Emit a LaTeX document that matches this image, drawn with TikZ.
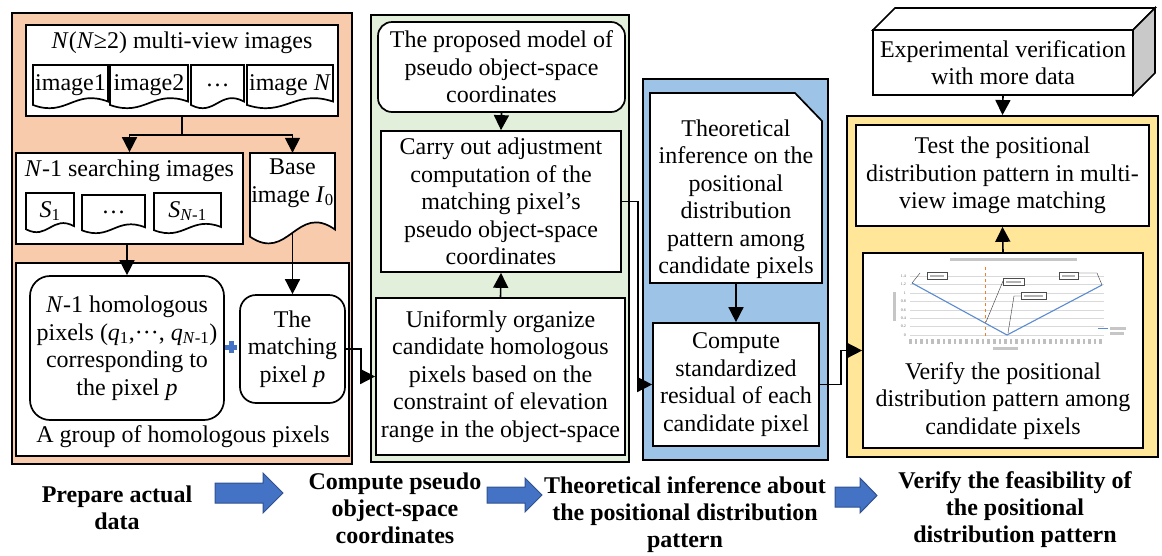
\documentclass[tikz,border=0pt]{standalone}
\usepackage{fontspec}
\setmainfont{Liberation Serif}
\usetikzlibrary{arrows.meta,calc,fit}
\pgfdeclarelayer{bg}
\pgfdeclarelayer{conn}
\pgfsetlayers{bg,conn,main}
\definecolor{peach}{HTML}{F8CBAD}
\definecolor{pgreen}{HTML}{E2EFDA}
\definecolor{pblue}{HTML}{9DC3E6}
\definecolor{pyellow}{HTML}{FFE699}
\definecolor{arrowblue}{HTML}{4472C4}
\definecolor{arrowedge}{HTML}{2F528F}
\definecolor{chartblue}{HTML}{5B8BD0}
\definecolor{chartorange}{HTML}{ED7D31}
\definecolor{sidegray}{HTML}{C9C9C9}
\newcommand{\docshape}[4]{%
  \draw[docline] (#1,#2) -- (#3,#2) -- (#3,{#4-0.15*(#4-#2)})
    .. controls ({#3-0.45*(#3-#1)},{#4-0.45*(#4-#2)}) and ({#1+0.45*(#3-#1)},{#4+0.22*(#4-#2)})
    .. (#1,{#4-0.07*(#4-#2)}) -- cycle;}
% box node from its corners: [options]{name}{x1}{y1}{x2}{y2}{text}
\newcommand{\boxnode}[7][]{%
  \pgfmathsetmacro\bxc{(#3+#5)/2}\pgfmathsetmacro\byc{(#4+#6)/2}%
  \pgfmathsetmacro\bxw{#5-#3}\pgfmathsetmacro\bxh{#6-#4}%
  \node[box,minimum width=\bxw pt,minimum height=\bxh pt,#1] (#2) at (\bxc,\byc) {#7};}
\tikzset{
  panel/.style={draw=black, line width=1.9pt, inner sep=0pt},
  box/.style={draw=black, fill=white, line width=1.7pt, inner sep=0pt, align=center, font=\fontsize{24}{27.5}\selectfont},
  area/.style={inner sep=0pt},
  txt/.style={inner sep=0pt, align=center, font=\fontsize{24}{27.5}\selectfont},
  steplabel/.style={inner sep=0pt, align=center, font=\fontsize{24}{27}\selectfont\bfseries},
  link/.style={line width=1.6pt, -{Triangle[length=15pt,width=15pt]}},
  plainlink/.style={line width=1.6pt},
  docline/.style={draw=black, fill=white, line width=1.7pt},
  blockarrow/.style={fill=arrowblue, draw=arrowedge, line width=1pt},
  chartgrid/.style={gray!30, line width=0.4pt},
  blurtext/.style={fill=gray!45},
  charttick/.style={inner sep=0pt, text=gray!80!black, font=\fontsize{4}{4}\selectfont},
  leader/.style={black!80, line width=0.4pt},
  labelbox/.style={draw=black!70, fill=white, line width=0.4pt},
}
\begin{document}
\begin{tikzpicture}[x=1pt,y=-1pt]
\useasboundingbox (0,0) rectangle (1162,555);

% ---------- panels ----------
\begin{pgfonlayer}{bg}
\node[panel, fill=peach, fit={(12,13)(352,464)}] (opanel) {};
\node[panel, fill=white, line width=2.2pt, fit={(16,263)(349,456)}] (group) {};
\node[panel, fill=pgreen, fit={(371,15)(629,462)}] (gpanel) {};
\node[panel, fill=pblue, fit={(643,79)(828,460)}] (bpanel) {};
\node[panel, fill=pyellow, fit={(847,116)(1158,457)}] (ypanel) {};
\end{pgfonlayer}

% ---------- orange panel ----------
\boxnode{multi}{26}{25}{338}{116}{}
\node[txt] (multit) at (182,43) {\textit{N}(\textit{N}≥2) multi-view images};
\docshape{33}{65}{108}{108}
\node[txt] (img1) at (70.5,85) {image1};
\docshape{110}{65}{188}{108}
\node[txt] (img2) at (149,85) {image2};
\docshape{191}{65}{244}{108}
\node[txt] (img3) at (217.5,85) {…};
\docshape{247}{65}{333}{108}
\node[txt] (img4) at (290,85) {image \textit{N}};

\boxnode{search}{16}{153}{243}{244}{}
\node[txt] (searcht) at (129.5,171) {\textit{N}-1 searching images};
\docshape{26}{193}{74}{232}
\node[txt] (s1) at (50,211) {\textit{S}\textsubscript{1}};
\docshape{82}{195}{145}{233}
\node[txt] (s2) at (113.5,212) {…};
\docshape{154}{193}{221}{233}
\node[txt] (s3) at (187.5,211) {\textit{S}\textsubscript{\textit{N}-1}};

\node[area, fit={(250,153)(335,243)}] (base) {};
\docshape{250}{153}{335}{243}
\node[txt] (baset) at (292.5,183) {Base\\image \textit{I}\textsubscript{0}};

\boxnode[rounded corners=20pt]{homol}{30}{276}{224}{420}
  {\textit{N}-1 homologous\\pixels (\textit{q}\textsubscript{1},···, \textit{q}\textsubscript{\textit{N}-1})\\corresponding to\\the pixel \textit{p}}
\boxnode[rounded corners=16pt]{match}{240}{295}{345}{403}
  {The\\matching\\pixel \textit{p}}
\node[txt] (groupt) at (183,437) {A group of homologous pixels};
\draw[arrowblue, line width=5pt] (225,347) -- (237,347) (231,341) -- (231,353);

% ---------- green panel ----------
\boxnode[rounded corners=14pt]{prop}{378}{22}{625}{112}
  {The proposed model of\\pseudo object-space\\coordinates}
\boxnode{carry}{381}{131}{621}{272}
  {Carry out adjustment\\computation of the\\matching pixel’s\\pseudo object-space\\coordinates}
\boxnode{unif}{376}{298}{625}{455}
  {Uniformly organize\\candidate homologous\\pixels based on the\\constraint of elevation\\range in the object-space}

% ---------- blue panel ----------
\node[area, fit={(650,93)(822,283)}] (theo) {};
\draw[docline] (650,93) -- (795,93) -- (822,121) -- (822,283) -- (650,283) -- cycle;
\node[txt] (theot) at (736,199)
  {Theoretical\\inference on the\\positional\\distribution\\pattern among\\candidate pixels};
\boxnode{compute}{653}{323}{819}{446}
  {Compute\\standardized\\residual of each\\candidate pixel}

% ---------- yellow panel ----------
\draw[line width=1.7pt, fill=white] (873,30) -- (895,8) -- (1155,8) -- (1133,30) -- cycle;
\draw[line width=1.7pt, fill=sidegray] (1133,30) -- (1155,8) -- (1155,73) -- (1133,95) -- cycle;
\boxnode{exp}{873}{30}{1133}{95}{Experimental verification\\with more data}
\boxnode{test}{856}{125}{1149}{226}
  {Test the positional\\distribution pattern in multi-\\view image matching}
\boxnode{verify}{863}{253}{1143}{448}{}
\node[txt] (verifyt) at (1003,401)
  {Verify the positional\\distribution pattern among\\candidate pixels};

% chart inside the verify box
\fill[blurtext] (950,257.6) rectangle (1077,260.6);
\foreach \v/\l in {0/0,1/0.2,2/0.4,3/0.6,4/0.8,5/1,6/1.2,7/1.4}{
  \draw[chartgrid] (910,{335-8.43*\v}) -- (1104,{335-8.43*\v});
  \node[charttick, anchor=east] (yl\v) at (906,{335-8.43*\v}) {\l};
}
\fill[blurtext] (893,292) rectangle (896,321);
\foreach \i in {0,...,34}{ \fill[gray!50] ({909+\i*5.6},339) rectangle ++(2.6,4.5); }
\fill[blurtext] (993,347) rectangle (1018,350);
\draw[chartorange, dashed, line width=0.9pt] (985,267) -- (985,338);
\draw[chartblue, line width=1.1pt] (912,283) -- (1007,335) -- (1102,285);
\draw[chartblue, line width=1pt] (1098,328) -- (1108,328);
\fill[blurtext] (1110,327) rectangle (1126,329.5);
\fill[blurtext] (1110,332) rectangle (1124,334.5);
\draw[leader] (920,273) -- (912,283);
\draw[labelbox] (927,272) rectangle (947,279);
\fill[gray!60] (930,274.5) rectangle (944,276.5);
\draw[leader] (1003,281) -- (986,322);
\draw[labelbox] (1003,278) rectangle (1024,285);
\fill[gray!60] (1006,280.5) rectangle (1021,282.5);
\draw[leader] (1021,296) -- (1014,296) -- (1008,333);
\draw[labelbox] (1021,292) rectangle (1046,299);
\fill[gray!60] (1024,294.5) rectangle (1043,296.5);
\draw[leader] (1078,273) -- (1097,273) -- (1102,285);
\draw[labelbox] (1059,272) rectangle (1078,279);
\fill[gray!60] (1062,274.5) rectangle (1075,276.5);

% ---------- connectors ----------
\begin{pgfonlayer}{conn}
\draw[plainlink] (multi.south) -- ++(0,18) coordinate (split);
\draw[link] (split) -| (search.north);
\draw[link] (split) -| (base.north);
\draw[link] (search.south -| homol.north) -- (homol.north);
\draw[link] (base.center) -- (match.north);
\draw[link] (match.east) -- ++(15,0) |- (unif.west);
\draw[link] (prop.south) -- (carry.north);
\draw[link] (unif.north) -- (carry.south);
\draw[link] (carry.east) -- ++(16,0) |- (compute.west);
\draw[link] (theo.south) -- (compute.north);
\draw[link] (compute.east) -- ++(21,0) |- (verify.west);
\draw[link] (exp.south) -- (ypanel.north);
\draw[link] (verify.north) -- (test.south);
\end{pgfonlayer}

% ---------- bottom stage labels ----------
\node[steplabel] (st1) at (117,508) {Prepare actual\\data};
\node[steplabel] (st2) at (395,508) {Compute pseudo\\object-space\\coordinates};
\node[steplabel] (st3) at (685,515) {Theoretical inference about\\the positional distribution\\pattern};
\node[steplabel] (st4) at (1015,510) {Verify the feasibility of\\the positional\\distribution pattern};
\draw[blockarrow] (215,483) -- (263,483) -- (263,473) -- (283,493) -- (263,513) -- (263,503) -- (215,503) -- cycle;
\draw[blockarrow] (487,487) -- (525,487) -- (525,478) -- (542,495) -- (525,512) -- (525,503) -- (487,503) -- cycle;
\draw[blockarrow] (835,487) -- (860,487) -- (860,478) -- (877,495.5) -- (860,513) -- (860,507) -- (835,507) -- cycle;
\end{tikzpicture}
\end{document}
